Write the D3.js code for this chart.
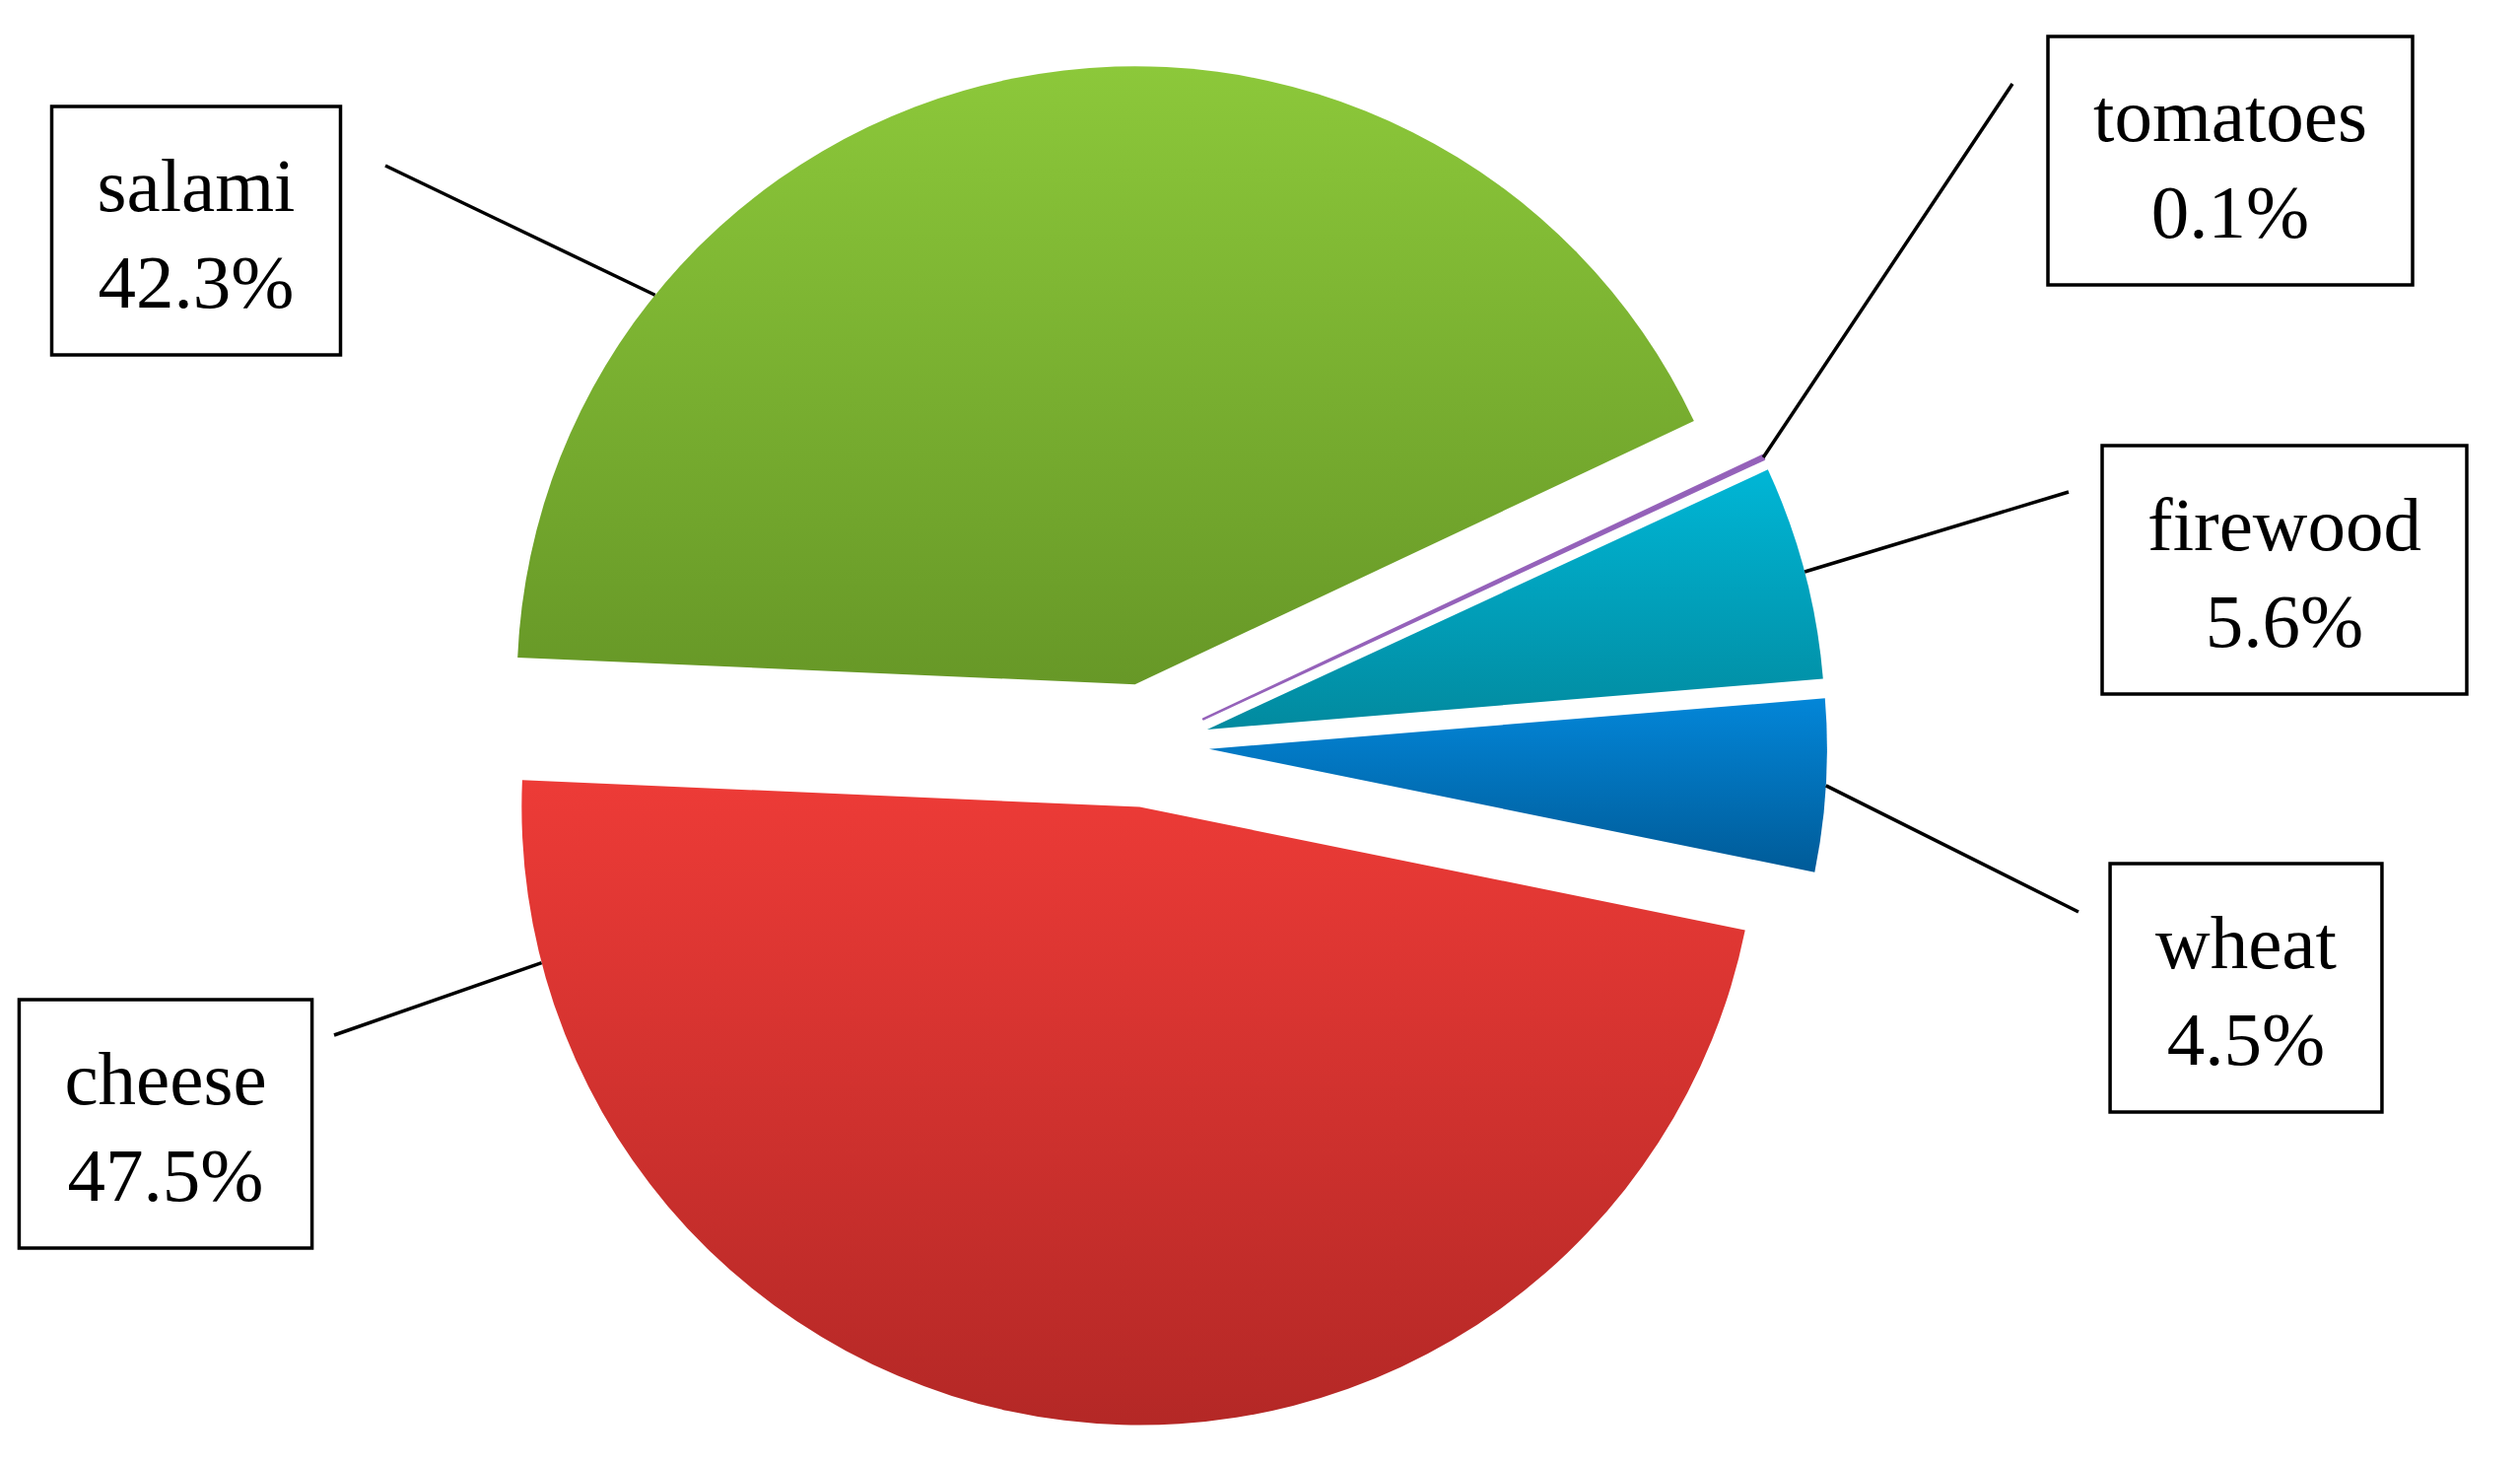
<!DOCTYPE html>
<html>
<head>
<meta charset="utf-8">
<script src="https://cdn.jsdelivr.net/npm/d3@7"></script>
<style>
	html, body { margin: 0; padding: 0; background: #fff; }
	svg { display: block; }
	.label-box { fill: #fff; stroke: #000; stroke-width: 3.5; }
	.label-text { font-family: "Liberation Serif", "Times New Roman", serif; font-size: 77px; fill: #000; }
	.leader { stroke: #000; stroke-width: 3.5; fill: none; }
</style>
</head>
<body>
<div id="chart"></div>
<script>
// Data (share of total, %)
const categories = ["salami", "tomatoes", "firewood", "wheat", "cheese"];
const shares = [42.3, 0.1, 5.6, 4.5, 47.5];

// Top / bottom colour of each slice's vertical gradient
const sliceColors = {
	salami: ["#8cc83a", "#679827"],
	tomatoes: ["#9562ba", "#7c4e9c"],
	firewood: ["#00b6d6", "#028a9f"],
	wheat: ["#0386d8", "#005b98"],
	cheese: ["#ed3b37", "#b42826"],
};

// Where each label box sits and where its leader line starts
// attach = position of the leader end along the slice's arc (0..1)
const labelLayout = {
	salami: { box: [199, 234], from: [391, 168], attach: 0.24 },
	tomatoes: { box: [2263, 163], from: [2042, 85], attach: 0.5 },
	firewood: { box: [2318, 578], from: [2099, 499], attach: 0.5 },
	wheat: { box: [2279, 1002], from: [2109, 925], attach: 0.5 },
	cheese: { box: [168, 1140], from: [339, 1050], attach: 0.9 },
};

const width = 2557;
const height = 1484;
const center = [1164, 756];
const radius = 627;
const explode = 63; // every slice pulled out ~10% of the radius
const startAngle = (-87.5 * Math.PI) / 180;

const fmt = d3.format(".1f");

const data = categories.map((name, i) => ({ name, value: shares[i] }));

const pie = d3
	.pie()
	.sort(null)
	.value((d) => d.value)
	.startAngle(startAngle)
	.endAngle(startAngle + 2 * Math.PI);

const arc = d3.arc().innerRadius(0).outerRadius(radius);

const arcs = pie(data);

// Offset of a slice's apex after exploding it along its mid angle
function sliceOffset(d) {
	const mid = (d.startAngle + d.endAngle) / 2;
	return [explode * Math.sin(mid), -explode * Math.cos(mid)];
}

const svg = d3
	.select("#chart")
	.append("svg")
	.attr("width", width)
	.attr("height", height);

const defs = svg.append("defs");

arcs.forEach((d) => {
	const grad = defs
		.append("linearGradient")
		.attr("id", `grad-${d.data.name}`)
		.attr("x1", 0)
		.attr("y1", 0)
		.attr("x2", 0)
		.attr("y2", 1);
	grad.append("stop").attr("offset", "0%").attr("stop-color", sliceColors[d.data.name][0]);
	grad.append("stop").attr("offset", "100%").attr("stop-color", sliceColors[d.data.name][1]);
});

// Slices (very thin ones get an outline so they stay visible, like the original)
svg
	.append("g")
	.attr("class", "slices")
	.selectAll("path")
	.data(arcs)
	.join("path")
	.attr("transform", (d) => {
		const [dx, dy] = sliceOffset(d);
		return `translate(${center[0] + dx},${center[1] + dy})`;
	})
	.attr("d", arc)
	.attr("fill", (d) => `url(#grad-${d.data.name})`)
	.attr("stroke", (d) => (d.endAngle - d.startAngle < 0.02 ? sliceColors[d.data.name][0] : "none"))
	.attr("stroke-width", 2.5)
	.attr("stroke-linejoin", "round");

// Leader lines
svg
	.append("g")
	.attr("class", "leaders")
	.selectAll("line")
	.data(arcs)
	.join("line")
	.attr("class", "leader")
	.each(function (d) {
		const lay = labelLayout[d.data.name];
		const [dx, dy] = sliceOffset(d);
		const a = d.startAngle + lay.attach * (d.endAngle - d.startAngle);
		d3.select(this)
			.attr("x1", lay.from[0])
			.attr("y1", lay.from[1])
			.attr("x2", center[0] + dx + radius * Math.sin(a))
			.attr("y2", center[1] + dy - radius * Math.cos(a));
	});

// Label boxes
const labels = svg
	.append("g")
	.attr("class", "labels")
	.selectAll("g")
	.data(arcs)
	.join("g")
	.attr("transform", (d) => `translate(${labelLayout[d.data.name].box.join(",")})`);

labels.append("rect").attr("class", "label-box");

labels
	.append("text")
	.attr("class", "label-text")
	.attr("text-anchor", "middle")
	.attr("y", -20)
	.text((d) => d.data.name);

labels
	.append("text")
	.attr("class", "label-text")
	.attr("text-anchor", "middle")
	.attr("y", 78)
	.text((d) => `${fmt(d.data.value)}%`);

// Size each box to its text
const boxH = 252;
const padX = 46;
labels.each(function () {
	const g = d3.select(this);
	let w = 0;
	g.selectAll("text").each(function () {
		w = Math.max(w, this.getComputedTextLength());
	});
	const bw = w + 2 * padX;
	g.select("rect")
		.attr("x", -bw / 2)
		.attr("y", -boxH / 2)
		.attr("width", bw)
		.attr("height", boxH);
});
</script>
</body>
</html>
